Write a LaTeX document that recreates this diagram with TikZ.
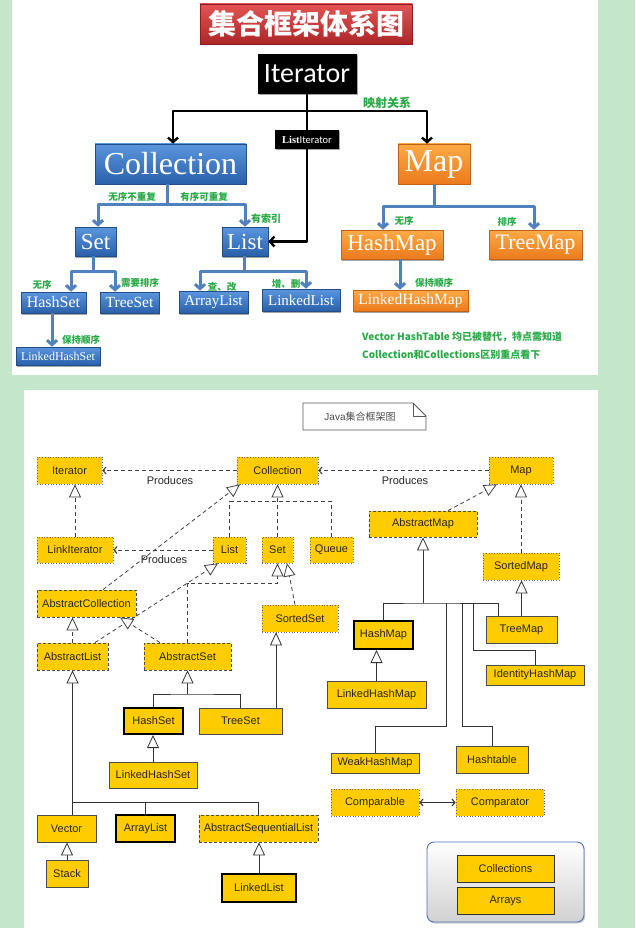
\documentclass[tikz,border=0pt]{standalone}
\usepackage{fontspec}
\setmainfont{Liberation Sans}
\newfontfamily\tsf{Liberation Serif}
\newfontfamily\calfont{Carlito}
\newfontfamily\cjk{Noto Sans CJK SC}
\usetikzlibrary{arrows.meta,shadows}
\newcommand\fsz[1]{\fontsize{#1}{#1}\selectfont}
\definecolor{bgGreen}{RGB}{196,230,203}
\definecolor{lblGreen}{RGB}{40,170,70}
\definecolor{arrBlue}{RGB}{79,129,189}
\definecolor{boxBlueT}{RGB}{90,150,222}
\definecolor{boxBlueB}{RGB}{42,96,170}
\definecolor{boxOrT}{RGB}{252,170,70}
\definecolor{boxOrB}{RGB}{236,122,28}
\definecolor{redT}{RGB}{228,84,84}
\definecolor{redB}{RGB}{172,38,40}
\definecolor{uml}{RGB}{255,204,0}
\definecolor{panelBlue}{RGB}{80,112,190}
\begin{document}
\begin{tikzpicture}[x=1pt,y=-1pt,
  sz/.style 2 args={minimum width=#1pt,minimum height=#2pt},
  shd/.style={drop shadow={shadow xshift=1pt,shadow yshift=-1.5pt,fill=black,opacity=0.35}},
  titlebox/.style={inner sep=0, draw=redB!80!black, line width=0.6pt, top color=redT, bottom color=redB, text=white, font=\cjk\bfseries\fsz{28}, shd},
  blkbox/.style={inner sep=0, fill=black, text=white, shd},
  bluebox/.style={inner sep=0, draw=boxBlueB!80!black, line width=0.6pt, top color=boxBlueT, bottom color=boxBlueB, text=white, shd},
  orbox/.style={inner sep=0, draw=boxOrB!80!black, line width=0.6pt, top color=boxOrT, bottom color=boxOrB, text=white, shd},
  glabel/.style={inner sep=0, text=lblGreen, font=\cjk\bfseries\fsz{9.5}},
  bline/.style={draw=arrBlue, line width=3pt, line join=round},
  barrow/.style={bline, -{Straight Barb[length=4.5pt,width=10pt]}},
  kline/.style={draw=black, line width=2.4pt, line join=round},
  karrow/.style={kline, -{Straight Barb[length=4.5pt,width=10pt]}},
  u/.style={inner sep=0, fill=uml, text=black!85, font=\fsz{11}},
  udot/.style={u, draw=black!60, dotted, line width=0.7pt},
  udash/.style={u, draw=black!70, dash pattern=on 3pt off 2pt, line width=0.8pt},
  usolid/.style={u, draw=black!70, line width=0.9pt},
  uthick/.style={u, draw=black, line width=2pt},
  dl/.style={draw=black!75, line width=0.8pt, dash pattern=on 4pt off 3pt},
  sl/.style={draw=black!80, line width=0.8pt},
  inh/.style={-{Triangle[open,fill=white,length=13pt,width=12pt]}},
  prod/.style={-{Straight Barb[length=3pt,width=7pt,line width=1.1pt]}},
  plbl/.style={inner sep=0, font=\fsz{11}, text=black!85}
]
\useasboundingbox (0,0) rectangle (635,928);
\fill[bgGreen] (0,0) rectangle (635,928);
\fill[white] (12,0) rectangle (598,375);
\fill[white] (24,390) rectangle (598,928);

% ===== top diagram =====
\node[titlebox, sz={212}{40}] (title) at (306,24) {集合框架体系图};
\node[blkbox, sz={99}{40}, font=\calfont\fsz{28}] (iter) at (307,74) {Iterator};
\node[blkbox, sz={64}{19}] (lit) at (307,139.5) {{\tsf\bfseries\fsz{10.5}List}{\calfont\fsz{10.5}Iterator}};
\node[bluebox, sz={151}{40}, font=\tsf\fsz{32}] (coll) at (170.5,164) {Collection};
\node[orbox, sz={72}{40}, font=\tsf\fsz{32}] (map) at (434,164) {Map};
\node[bluebox, sz={41}{29}, font=\tsf\fsz{23}] (set) at (95.5,241.5) {Set};
\node[bluebox, sz={46}{29}, font=\tsf\fsz{23}] (list) at (245,241.5) {List};
\node[bluebox, sz={65}{21}, font=\tsf\fsz{16}] (hset) at (53.5,302.5) {HashSet};
\node[bluebox, sz={59}{21}, font=\tsf\fsz{15.5}] (tset) at (129.5,302.5) {TreeSet};
\node[bluebox, sz={84}{18}, font=\tsf\fsz{12}] (lhset) at (58,356) {LinkedHashSet};
\node[bluebox, sz={69}{22}, font=\tsf\fsz{15}] (alist) at (213.5,302) {ArrayList};
\node[bluebox, sz={78}{22}, font=\tsf\fsz{15}] (llist) at (301,300) {LinkedList};
\node[orbox, sz={102}{29}, font=\tsf\fsz{23}] (hmap) at (392,244.5) {HashMap};
\node[orbox, sz={93}{29}, font=\tsf\fsz{22}] (tmap) at (535.5,244.5) {TreeMap};
\node[orbox, sz={115}{21}, font=\tsf\fsz{15.5}] (lhmap) at (410.5,300.5) {LinkedHashMap};

% black connectors
\coordinate (jI) at (307,111);
\coordinate (jIL) at (173,111);
\coordinate (jIR) at (427,111);
\draw[kline] (iter.south) -- (lit.north);
\draw[karrow] (jI) -| (jIL |- coll.north);
\draw[karrow] (jI) -| (jIR |- map.north);
\draw[karrow] (lit.south) |- (list.east);

% blue connectors
\coordinate (jC) at (167,204);
\coordinate (jCL) at (98,204);
\coordinate (jCR) at (245,204);
\draw[barrow] (coll.south -| jC) -- (jC) -| (jCL |- set.north);
\draw[barrow] (jC) -| (jCR |- list.north);
\coordinate (jS) at (93,271);
\coordinate (jSL) at (71,271);
\coordinate (jSR) at (115,271);
\draw[barrow] (set.south -| jS) -- (jS) -| (jSL |- hset.north);
\draw[barrow] (jS) -| (jSR |- tset.north);
\draw[barrow] (hset.south -| 52,0) -- (52,0 |- lhset.north);
\coordinate (jL) at (244,271);
\coordinate (jLL) at (200,271);
\coordinate (jLR) at (306,271);
\draw[barrow] (list.south -| jL) -- (jL) -| (jLL |- alist.north);
\draw[barrow] (jL) -| (jLR |- llist.north);
\coordinate (jM) at (434,206);
\coordinate (jML) at (383,206);
\coordinate (jMR) at (534,206);
\draw[barrow] (map.south -| jM) -- (jM) -| (jML |- hmap.north);
\draw[barrow] (jM) -| (jMR |- tmap.north);
\draw[barrow] (hmap.south -| 400,0) -- (400,0 |- lhmap.north);

% green labels
\node[glabel, font=\cjk\bfseries\fsz{12}] (g1) at (387,103) {映射关系};
\node[glabel] (g2) at (132,197) {无序不重复};
\node[glabel] (g3) at (204,197) {有序可重复};
\node[glabel, font=\cjk\bfseries\fsz{10}] (g4) at (266,219) {有索引};
\node[glabel] (g5) at (42,285) {无序};
\node[glabel] (g6) at (140,283) {需要排序};
\node[glabel] (g7) at (81,340) {保持顺序};
\node[glabel] (g8) at (222,287) {查、改};
\node[glabel] (g9) at (286,284) {增、删};
\node[glabel] (g10) at (404,221) {无序};
\node[glabel] (g11) at (507,222) {排序};
\node[glabel] (g12) at (434,283) {保持顺序};
\node[glabel, anchor=west, font=\cjk\bfseries\fsz{10}] (g13) at (362,337) {Vector HashTable 均已被替代，特点需知道};
\node[glabel, anchor=west, font=\cjk\bfseries\fsz{10}] (g14) at (362,355) {Collection和Collections区别重点看下};

% ===== bottom diagram =====
\draw[black!65, line width=0.8pt, fill=white] (303,403) -- (413,403) -- (426,416) -- (426,430) -- (303,430) -- cycle;
\draw[black!65, line width=0.8pt] (413,403) -- (413,416) -- (426,416);
\node[inner sep=0, text=black!70, font=\fsz{10}] (note) at (360,417) {Java{\cjk 集合框架图}};

\node[udot, sz={65}{27}] (biter) at (69.5,470.5) {Iterator};
\node[udot, sz={81}{27}] (bcoll) at (277.5,470.5) {Collection};
\node[udot, sz={64}{27}] (bmap) at (521,470.5) {Map};
\node[udash, sz={108}{26}] (absmap) at (423,524) {AbstractMap};
\node[udot, sz={76}{26}] (linkit) at (75,550) {LinkIterator};
\node[udot, sz={33}{26}] (blist) at (229.5,550) {List};
\node[udot, sz={31}{26}] (bset) at (277.5,550) {Set};
\node[udot, sz={43}{26}] (queue) at (331.5,550) {Queue};
\node[udot, sz={76}{27}] (smap) at (521,566.5) {SortedMap};
\node[udash, sz={99}{27}] (abscoll) at (86.5,603.5) {AbstractCollection};
\node[udot, sz={76}{27}] (sset) at (300,618.5) {SortedSet};
\node[udash, sz={71}{27}] (abslist) at (72.5,656.5) {AbstractList};
\node[udash, sz={87}{27}] (absset) at (187.5,656.5) {AbstractSet};
\node[uthick, sz={59}{26}] (bhset) at (153.5,721) {HashSet};
\node[usolid, sz={83}{26}] (btset) at (240.5,721) {TreeSet};
\node[usolid, sz={88}{26}] (blhset) at (153,775) {LinkedHashSet};
\node[uthick, sz={59}{28}] (bhmap) at (383.5,635) {HashMap};
\node[usolid, sz={71}{27}] (btmap) at (521.5,629.5) {TreeMap};
\node[usolid, sz={98}{20}] (idhm) at (535,675) {IdentityHashMap};
\node[usolid, sz={99}{27}] (blhmap) at (376.5,694.5) {LinkedHashMap};
\node[usolid, sz={88}{20}] (weak) at (375,763) {WeakHashMap};
\node[usolid, sz={72}{27}] (htab) at (492,759.5) {Hashtable};
\node[udot, sz={88}{27}] (cmpble) at (375,802.5) {Comparable};
\node[udot, sz={88}{27}] (cmptor) at (500,802.5) {Comparator};
\node[usolid, sz={59}{27}] (vector) at (66.5,828.5) {Vector};
\node[uthick, sz={59}{27}] (balist) at (145.5,828.5) {ArrayList};
\node[udash, sz={119}{27}] (asl) at (258.5,828.5) {AbstractSequentialList};
\node[usolid, sz={42}{27}] (stack) at (67,873.5) {Stack};
\node[uthick, sz={74}{28}] (bllist) at (259,888) {LinkedList};
\node[inner sep=0, sz={157}{80}, rounded corners=7pt, draw=panelBlue, line width=0.9pt, top color=white, bottom color=black!18, drop shadow={shadow xshift=1pt,shadow yshift=-1.5pt,fill=black,opacity=0.2}] (util) at (505.5,882) {};
\node[usolid, draw=black!80, sz={97}{27}] (colls) at (505.5,868.5) {Collections};
\node[usolid, draw=black!80, sz={97}{27}] (arrs) at (505.5,900.5) {Arrays};

% produces
\draw[dl, prod] (bcoll.west) -- (biter.east);
\node[plbl] (p1) at (170,481) {Produces};
\draw[dl, prod] (bmap.west) -- (bcoll.east);
\node[plbl] (p2) at (405,481) {Produces};
\draw[dl, prod] (blist.west) -- (linkit.east);
\node[plbl] (p3) at (164,560) {Produces};

% dashed realisations
\draw[dl, inh] (linkit.north) -- (linkit.north |- biter.south);
\draw[dl, inh] ([xshift=16.5pt]abscoll.north) -- ([xshift=-37.5pt]bcoll.south);
\draw[dl] (blist.north) -- ++(0,-35) -| (queue.north);
\draw[dl, inh] (bset.north) -- (bset.north |- bcoll.south);
\draw[dl, inh] ([xshift=25pt]absmap.north) -- ([xshift=-24pt]bmap.south);
\draw[dl, inh] (smap.north) -- (smap.north |- bmap.south);
\draw[dl, inh] ([xshift=22.5pt]abslist.north) -- ([xshift=-11.5pt]blist.south);
\draw[dl, inh] (abslist.north) -- (abslist.north |- abscoll.south);
\draw[dl, inh] ([xshift=-27.5pt]absset.north) -- ([xshift=33.5pt]abscoll.south);
\draw[dl, inh] (absset.north) -- (187.5,583) -| (bset.south);
\draw[dl, inh] ([xshift=-5pt]sset.north) -- ([xshift=9.5pt]bset.south);

% solid inheritance
\coordinate (jAS) at (187.5,694);
\draw[sl, inh] (jAS) -- (absset.south);
\draw[sl] (bhset.north) |- (jAS) -| (btset.north);
\draw[sl, inh] ([xshift=35.5pt]btset.north) -- ([xshift=35.5pt]btset.north |- sset.south);
\draw[sl, inh] (blhset.north) -- (blhset.north |- bhset.south);
\coordinate (jAL) at (72.5,802);
\draw[sl, inh] (vector.north -| abslist.south) -- (abslist.south);
\draw[sl] (jAL) -| (asl.north);
\draw[sl] (balist.north) -- (balist.north |- jAL);
\draw[sl, inh] (stack.north) -- (stack.north |- vector.south);
\draw[sl, inh] (bllist.north) -- (bllist.north |- asl.south);

\coordinate (jMap) at (423,603);
\draw[sl, inh] (jMap) -- (absmap.south);
\draw[sl] (bhmap.north) |- (jMap) -| ([xshift=-23.5pt]btmap.north);
\coordinate (jW) at (446,603);
\coordinate (jH) at (462,603);
\coordinate (jId) at (473,603);
\draw[sl] (jW) -- (446,726) -| (weak.north);
\draw[sl] (jH) -- (462,726) -| (htab.north);
\draw[sl] (jId) -- (473,650) -| (idhm.north);
\draw[sl, inh] (btmap.north) -- (btmap.north |- smap.south);
\draw[sl, inh] (blhmap.north) -- (blhmap.north |- bhmap.south);
\draw[sl, {Straight Barb[length=3pt,width=7pt,line width=1.1pt]}-{Straight Barb[length=3pt,width=7pt,line width=1.1pt]}] (cmpble.east) -- (cmptor.west);
\end{tikzpicture}
\end{document}
